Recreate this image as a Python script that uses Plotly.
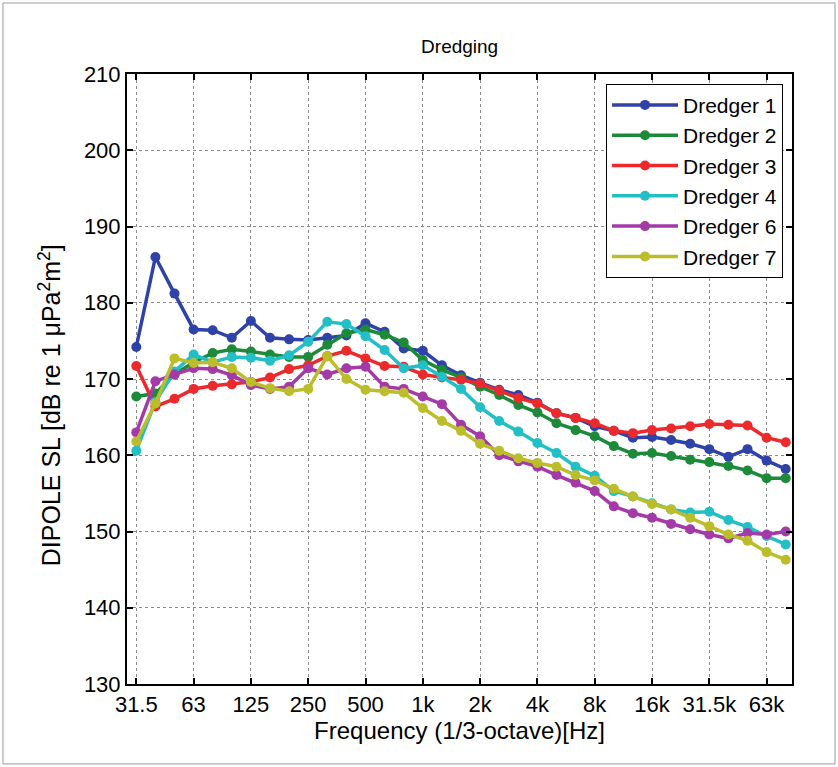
import plotly.graph_objects as go

# 1/3-octave band index 0..34 -> 31.5 Hz .. 80 kHz (exact base-2 centres)
band_index = list(range(35))
freqs = [1000 * 2 ** ((k - 15) / 3) for k in band_index]

tick_vals = [1000 * 2 ** (n - 5) for n in range(12)]
tick_text = ["31.5", "63", "125", "250", "500", "1k", "2k", "4k", "8k", "16k", "31.5k", "63k"]

dredger1 = [174.2, 186.0, 181.2, 176.5, 176.4, 175.4, 177.6, 175.4, 175.2, 175.1, 175.4, 175.7,
            177.3, 176.2, 174.0, 173.7, 171.8, 170.5, 169.5, 168.6, 167.9, 166.9, 165.5, 164.9,
            163.8, 163.2, 162.3, 162.4, 162.0, 161.5, 160.8, 159.8, 160.8, 159.3, 158.2]
dredger2 = [167.7, 168.1, 170.6, 172.2, 173.4, 173.9, 173.6, 173.2, 172.9, 172.9, 174.5, 176.0,
            176.5, 175.8, 174.8, 172.5, 171.2, 170.2, 169.0, 167.9, 166.6, 165.6, 164.2, 163.3,
            162.5, 161.2, 160.2, 160.3, 159.9, 159.4, 159.1, 158.6, 158.0, 157.0, 157.0]
dredger3 = [171.7, 166.4, 167.4, 168.7, 169.1, 169.3, 169.6, 170.2, 171.3, 171.8, 173.0, 173.7,
            172.7, 171.7, 171.6, 170.6, 170.2, 169.9, 169.4, 168.5, 167.5, 166.8, 165.5, 164.9,
            164.2, 163.2, 162.9, 163.3, 163.5, 163.8, 164.1, 164.0, 163.9, 162.3, 161.7]
dredger4 = [160.6, 167.0, 171.0, 173.2, 172.2, 172.9, 172.8, 172.4, 173.1, 174.9, 177.5, 177.2,
            175.6, 173.8, 171.4, 171.8, 170.3, 168.7, 166.3, 164.5, 163.1, 161.6, 160.3, 158.5,
            157.3, 155.3, 154.6, 153.7, 152.9, 152.5, 152.6, 151.5, 150.6, 149.4, 148.3]
dredger6 = [163.0, 169.7, 170.6, 171.4, 171.3, 170.5, 169.2, 168.7, 169.0, 171.4, 170.6, 171.4,
            171.6, 169.0, 168.7, 167.7, 166.7, 164.0, 162.5, 160.0, 159.2, 158.5, 157.4, 156.4,
            155.3, 153.3, 152.4, 151.8, 151.0, 150.3, 149.6, 149.1, 149.8, 149.6, 150.0]
dredger7 = [161.8, 166.8, 172.7, 172.1, 172.2, 171.4, 169.6, 168.8, 168.4, 168.7, 173.0, 170.0,
            168.6, 168.4, 168.2, 166.2, 164.5, 163.2, 161.5, 160.6, 159.6, 159.0, 158.5, 157.4,
            156.7, 155.6, 154.6, 153.6, 152.9, 151.8, 150.7, 149.6, 148.8, 147.3, 146.3]

series_names = ["Dredger 1", "Dredger 2", "Dredger 3", "Dredger 4", "Dredger 6", "Dredger 7"]
series_values = [dredger1, dredger2, dredger3, dredger4, dredger6, dredger7]
series_colors = ["#2f42a8", "#1d8a3a", "#ec2a2c", "#22bfc6", "#a43aa8", "#bcbd2a"]

font_family = "Liberation Sans, Arial, sans-serif"

fig = go.Figure()
for name, vals, col in zip(series_names, series_values, series_colors):
    fig.add_trace(go.Scatter(
        x=freqs, y=vals, name=name, mode="lines+markers",
        line=dict(color=col, width=3.5),
        marker=dict(color=col, size=10),
    ))

axis_common = dict(
    showline=True, linecolor="black", linewidth=2, mirror="ticks",
    ticks="inside", ticklen=6, tickwidth=2, tickcolor="black",
    showgrid=True, gridcolor="#8a8a8a", griddash="dot", gridwidth=1,
    zeroline=False,
    tickfont=dict(family=font_family, size=22, color="black"),
)

fig.update_layout(
    width=838, height=767,
    margin=dict(l=127, r=46, t=74, b=83),
    paper_bgcolor="white", plot_bgcolor="white",
    font=dict(family=font_family, color="black"),
    title=dict(text="Dredging", x=0.5485, xanchor="center", y=0.939, yanchor="middle",
               font=dict(family=font_family, size=19, color="black")),
    xaxis=dict(type="log", range=[1.446, 4.9396], tickmode="array",
               tickvals=tick_vals, ticktext=tick_text,
               title=dict(text="Frequency (1/3-octave)[Hz]", standoff=2,
                          font=dict(family=font_family, size=24, color="black")),
               **axis_common),
    yaxis=dict(range=[130, 210], dtick=10, tick0=130, **axis_common),
    legend=dict(x=0.9865, xanchor="right", y=0.984, yanchor="top",
                bgcolor="white", bordercolor="black", borderwidth=1,
                font=dict(family=font_family, size=21, color="black"),
                itemwidth=66, tracegroupgap=0),
    annotations=[dict(text="DIPOLE SL [dB re 1 μPa<sup>2</sup>m<sup>2</sup>]",
                      xref="paper", yref="paper", x=-0.1158, y=0.457,
                      xanchor="center", yanchor="middle", textangle=-90,
                      showarrow=False,
                      font=dict(family=font_family, size=25, color="black"))],
    shapes=[dict(type="rect", xref="paper", yref="paper",
                 x0=-0.1865, x1=1.0647, y0=-0.131, y1=1.1164,
                 line=dict(color="#9a9a9a", width=1), fillcolor="rgba(0,0,0,0)",
                 layer="below")],
)

fig.write_html("out.html", config={"displayModeBar": False},
               post_script="document.body.style.margin='0';")
